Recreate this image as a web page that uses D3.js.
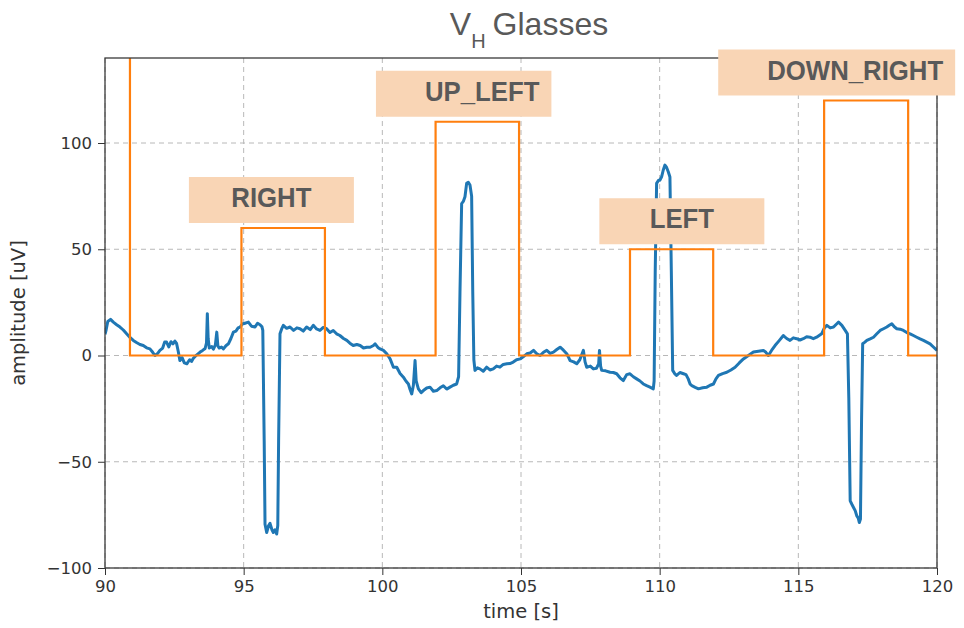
<!DOCTYPE html>
<html>
<head>
<meta charset="utf-8">
<script src="https://cdn.jsdelivr.net/npm/d3@7"></script>
<style>
  body { margin: 0; background: #fff; }
  svg { display: block; }
</style>
</head>
<body>
<div id="chart"></div>
<script>
// Cue signal (orange step line): level holds from each time until the next one
const cueTimes = [88, 90.9, 94.92, 97.93, 101.92, 104.93, 108.93, 111.93, 115.93, 118.96, 120]
const cueLevels = [160, 0, 60, 0, 110, 0, 50, 0, 120, 0, 0]

// Cue annotation boxes
const cueNames = ["RIGHT", "UP_LEFT", "LEFT", "DOWN_RIGHT"]
const cueNameTimes = [96.0, 103.6, 110.8, 117.05]
const cueNameLevels = [60, 110, 50, 120]

// EOG signal (blue)
const sigTimes = [
  90.00, 90.04, 90.10, 90.20, 90.30, 90.42, 90.54, 90.66, 90.78, 90.90,
  91.02, 91.15, 91.26, 91.38, 91.50, 91.62, 91.72, 91.80, 91.90, 91.98,
  92.08, 92.15, 92.22, 92.30, 92.38, 92.45, 92.52, 92.58, 92.64, 92.70,
  92.78, 92.86, 92.95, 93.05, 93.12, 93.18, 93.30, 93.43, 93.52, 93.61,
  93.66, 93.69, 93.72, 93.76, 93.85, 93.91, 93.98, 94.03, 94.07, 94.12,
  94.20, 94.27, 94.36, 94.45, 94.54, 94.63, 94.72, 94.80, 94.87, 94.95,
  95.05, 95.17, 95.28, 95.41, 95.50, 95.59, 95.66, 95.69, 95.74, 95.77,
  95.83, 95.90, 95.95, 96.02, 96.07, 96.13, 96.19, 96.23, 96.26, 96.31,
  96.37, 96.43, 96.55, 96.67, 96.80, 96.92, 97.03, 97.15, 97.27, 97.40,
  97.51, 97.63, 97.75, 97.87, 97.99, 98.11, 98.23, 98.35, 98.47, 98.60,
  98.72, 98.83, 98.95, 99.08, 99.20, 99.32, 99.44, 99.56, 99.68, 99.74,
  99.84, 99.92, 100.04, 100.16, 100.28, 100.40, 100.52, 100.64, 100.76, 100.85,
  100.94, 101.00, 101.06, 101.12, 101.18, 101.22, 101.30, 101.40, 101.48, 101.60,
  101.72, 101.84, 101.96, 102.08, 102.20, 102.32, 102.44, 102.56, 102.68, 102.75,
  102.80, 102.86, 102.92, 102.98, 103.04, 103.10, 103.16, 103.22, 103.26, 103.30,
  103.34, 103.43, 103.52, 103.64, 103.76, 103.88, 104.00, 104.12, 104.24, 104.36,
  104.49, 104.60, 104.72, 104.84, 104.97, 105.09, 105.21, 105.33, 105.45, 105.57,
  105.69, 105.81, 105.93, 106.05, 106.17, 106.29, 106.41, 106.53, 106.65, 106.72,
  106.77, 106.90, 107.01, 107.12, 107.25, 107.31, 107.37, 107.50, 107.61, 107.72,
  107.80, 107.83, 107.87, 107.91, 108.05, 108.21, 108.33, 108.45, 108.57, 108.69,
  108.81, 108.93, 109.05, 109.17, 109.29, 109.41, 109.53, 109.65, 109.77, 109.80,
  109.84, 109.89, 109.96, 110.01, 110.07, 110.13, 110.19, 110.25, 110.31, 110.37,
  110.42, 110.47, 110.54, 110.61, 110.73, 110.86, 110.95, 111.03, 111.10, 111.16,
  111.28, 111.40, 111.55, 111.70, 111.82, 111.94, 112.03, 112.12, 112.27, 112.42,
  112.57, 112.72, 112.87, 113.02, 113.20, 113.38, 113.56, 113.74, 113.83, 113.92,
  114.04, 114.16, 114.31, 114.46, 114.58, 114.70, 114.82, 114.94, 115.06, 115.18,
  115.30, 115.42, 115.54, 115.66, 115.75, 115.84, 115.94, 116.03, 116.15, 116.27,
  116.36, 116.45, 116.57, 116.69, 116.77, 116.82, 116.87, 116.93, 116.99, 117.05,
  117.11, 117.16, 117.20, 117.24, 117.28, 117.32, 117.40, 117.47, 117.59, 117.71,
  117.83, 117.95, 118.07, 118.19, 118.28, 118.37, 118.46, 118.55, 118.67, 118.79,
  118.91, 119.03, 119.15, 119.27, 119.39, 119.51, 119.63, 119.75, 119.87, 120.00
]
const sigValues = [
  10, 12, 16, 17, 15.7, 14.5, 13.4, 12, 10.2, 8.5,
  7.1, 6.0, 5.2, 4.7, 3.6, 3.1, 1.5, 0, 1.0, 2.4,
  3.5, 6.3, 6.3, 4.0, 6.5, 5.5, 6.8, 5.7, 2.0, -2.4,
  -1.0, -3.5, -3.9, -2.0, -2.8, -1.4, 0.2, 1.6, 2.4, 3.3,
  6, 19.7, 8, 3.5, 4.2, 3.0, 5, 11, 4.5, 3.5,
  4.0, 3.1, 4.6, 5.5, 8.0, 11, 11.5, 13.0, 13.4, 14.8,
  15.2, 15.7, 13.8, 13.4, 15.2, 14.5, 13.5, 11.8, -40, -79.4,
  -83.3, -80, -79, -82, -83.3, -82, -84, -80, -40, 10.2,
  12.5, 14.2, 12.8, 13.4, 11.8, 13.0, 12.6, 11.5, 13.4, 12.2,
  14.2, 12.5, 11.8, 13.2, 12.6, 10.8, 11.8, 10.2, 9.4, 8.0,
  7.1, 5.8, 4.7, 5.2, 4.7, 3.5, 3.9, 3.9, 4.7, 5.5,
  3.8, 3.1, 2.4, 0.8, -1.6, -5.5, -5.5, -8.5, -10.2, -12,
  -13.4, -16, -18.1, -14, -2.4, -12, -15.7, -17.5, -16.5, -15.3,
  -14.9, -16.8, -16.5, -15.2, -14.2, -15.8, -14.9, -14.0, -13.4, -10,
  30, 71.5, 72.5, 74.7, 81, 81.5, 80.2, 75, 30, -2,
  -7, -5.8, -6.3, -7.4, -5.5, -6.8, -6.3, -5.0, -5.5, -4.2,
  -3.9, -3.8, -3.1, -2.0, -1.6, -0.5, 0.8, 1.2, 2.4, 0.8,
  0, 1.5, 2.4, 1.0, 1.6, 2.8, 3.9, 2.5, 0.8, -1,
  -2.4, -3.0, -3.9, -2, 2.4, -3, -5.5, -5.0, -6.3, -6.0,
  -4, 2.4, -5, -7, -7.2, -7.9, -8.0, -8.6, -10.5, -11.8,
  -9.0, -8.6, -10.0, -11, -12.0, -13.4, -14.2, -14.9, -15.7, -12,
  40, 81, 82.5, 82.5, 84.1, 87.3, 89.6, 88.5, 86.5, 84,
  40, -7, -8.5, -9.4, -8.0, -8.6, -9.0, -11, -13.5, -14.2,
  -15.0, -15.7, -15.2, -14.9, -14.0, -13.4, -11.0, -9.4, -8.5, -7.9,
  -6.8, -5.5, -3.5, -1.6, 0, 1.6, 2.0, 2.4, 1.5, 0,
  2.5, 4.7, 7.0, 9.4, 8.0, 7.1, 8.3, 7.9, 7.3, 7.9,
  8.8, 8.6, 7.9, 8.6, 9.4, 10.2, 13, 14.2, 13.0, 13.4,
  14.6, 15.7, 14.2, 11.8, 10.2, -20, -68.4, -70, -71.5, -73,
  -75.5, -76.5, -78.6, -77, -30, 5.5, 6.3, 7.1, 7.8, 8.6,
  10.2, 11.8, 12.6, 13.4, 14.2, 14.9, 13.5, 12.6, 12.4, 11.8,
  10.8, 10.2, 9.4, 8.6, 7.8, 7.1, 6.3, 5.5, 4.0, 2.4
]

const xTicks = [90, 95, 100, 105, 110, 115, 120]
const yTicks = [-100, -50, 0, 50, 100]

const width = 964
const height = 628
const margin = {top: 58, right: 27, bottom: 60, left: 105}
const plotW = width - margin.left - margin.right
const plotH = height - margin.top - margin.bottom

let svg = d3.select("#chart")
            .append("svg")
            .attr("width", width)
            .attr("height", height)

let xScale = d3.scaleLinear()
               .domain([90, 120])
               .range([margin.left, margin.left + plotW])
let yScale = d3.scaleLinear()
               .domain([-100, 140])
               .range([margin.top + plotH, margin.top])

svg.append("clipPath")
   .attr("id", "plot-clip")
   .append("rect")
   .attr("x", margin.left)
   .attr("y", margin.top)
   .attr("width", plotW)
   .attr("height", plotH)

//Grid lines
svg.append("g")
   .selectAll("line")
   .data(xTicks)
   .enter().append("line")
   .attr("x1", d => xScale(d))
   .attr("x2", d => xScale(d))
   .attr("y1", margin.top)
   .attr("y2", margin.top + plotH)
   .attr("stroke", "#b8b8b8")
   .attr("stroke-width", 1)
   .attr("stroke-dasharray", "5,4")

svg.append("g")
   .selectAll("line")
   .data(yTicks)
   .enter().append("line")
   .attr("x1", margin.left)
   .attr("x2", margin.left + plotW)
   .attr("y1", d => yScale(d))
   .attr("y2", d => yScale(d))
   .attr("stroke", "#b8b8b8")
   .attr("stroke-width", 1)
   .attr("stroke-dasharray", "5,4")

//Axes
let xAxis = d3.axisBottom(xScale)
              .tickValues(xTicks)
              .tickSize(7)
              .tickPadding(5)
              .tickFormat(d3.format("d"))
let yAxis = d3.axisLeft(yScale)
              .tickValues(yTicks)
              .tickSize(7)
              .tickPadding(6)
              .tickFormat(d3.format("d"))

let gx = svg.append("g")
            .attr("transform", "translate(0," + (margin.top + plotH) + ")")
            .call(xAxis)
let gy = svg.append("g")
            .attr("transform", "translate(" + margin.left + ",0)")
            .call(yAxis)

;[gx, gy].forEach(g => {
  g.select(".domain").remove()
  g.selectAll(".tick line").attr("stroke", "#333").attr("stroke-width", 1)
  g.selectAll(".tick text")
   .attr("fill", "#333")
   .style("font-family", "'DejaVu Sans', sans-serif")
   .style("font-size", "16.5px")
})

//Cue step line
let cueData = cueTimes.map((t, i) => ({t: t, v: cueLevels[i]}))
let stepLine = d3.line()
                 .x(d => xScale(d.t))
                 .y(d => yScale(d.v))
                 .curve(d3.curveStepAfter)

//Signal line
let sigData = sigTimes.map((t, i) => ({t: t, v: sigValues[i]}))
let sigLine = d3.line()
                .x(d => xScale(d.t))
                .y(d => yScale(d.v))

let plot = svg.append("g").attr("clip-path", "url(#plot-clip)")

plot.append("path")
    .datum(sigData)
    .attr("d", sigLine)
    .attr("fill", "none")
    .attr("stroke", "#1f77b4")
    .attr("stroke-width", 3)
    .attr("stroke-linejoin", "round")

plot.append("path")
    .datum(cueData)
    .attr("d", stepLine)
    .attr("fill", "none")
    .attr("stroke", "#ff7f0e")
    .attr("stroke-width", 2.2)

//Spines
svg.append("rect")
   .attr("x", margin.left)
   .attr("y", margin.top)
   .attr("width", plotW)
   .attr("height", plotH)
   .attr("fill", "none")
   .attr("stroke", "#3a3a3a")
   .attr("stroke-width", 1.3)

//Cue annotations
const labelScale = 0.92
cueNames.forEach((name, i) => {
  let cx = xScale(cueNameTimes[i])
  let bottom = yScale(cueNameLevels[i]) - 5
  let g = svg.append("g")
  let box = g.append("rect")
             .attr("fill", "#f9d5b5")
  let txt = g.append("text")
             .attr("transform", "translate(" + cx + "," + (bottom - 16) + ") scale(" + labelScale + ",1)")
             .attr("text-anchor", "middle")
             .attr("fill", "#595959")
             .style("font-family", "'Liberation Sans', Arial, sans-serif")
             .style("font-weight", "bold")
             .style("font-size", "28px")
             .text(name)
  let tw = txt.node().getComputedTextLength() * labelScale
  let left = cx - 82.5
  let right = cx + 82.5
  if (tw + 61 > 165) {
    left = cx - tw / 2 - 49
    right = cx + tw / 2 + 12
  }
  box.attr("x", left)
     .attr("y", bottom - 46)
     .attr("width", right - left)
     .attr("height", 46)
})

//Title
let title = svg.append("text")
               .attr("x", margin.left + plotW / 2 + 8)
               .attr("y", 35)
               .attr("text-anchor", "middle")
               .attr("fill", "#595959")
               .style("font-family", "'Liberation Sans', Arial, sans-serif")
               .style("font-size", "32px")
title.append("tspan").text("V")
title.append("tspan").attr("dy", 13).style("font-size", "20px").text("H")
title.append("tspan").attr("dy", -13).attr("dx", 7).text("Glasses")

//Axis labels
svg.append("text")
   .attr("x", margin.left + plotW / 2)
   .attr("y", 618)
   .attr("text-anchor", "middle")
   .attr("fill", "#333")
   .style("font-family", "'DejaVu Sans', sans-serif")
   .style("font-size", "19.5px")
   .text("time [s]")

svg.append("text")
   .attr("transform", "translate(25," + (margin.top + plotH / 2) + ") rotate(-90)")
   .attr("text-anchor", "middle")
   .attr("fill", "#333")
   .style("font-family", "'DejaVu Sans', sans-serif")
   .style("font-size", "19.5px")
   .text("amplitude [uV]")
</script>
</body>
</html>
